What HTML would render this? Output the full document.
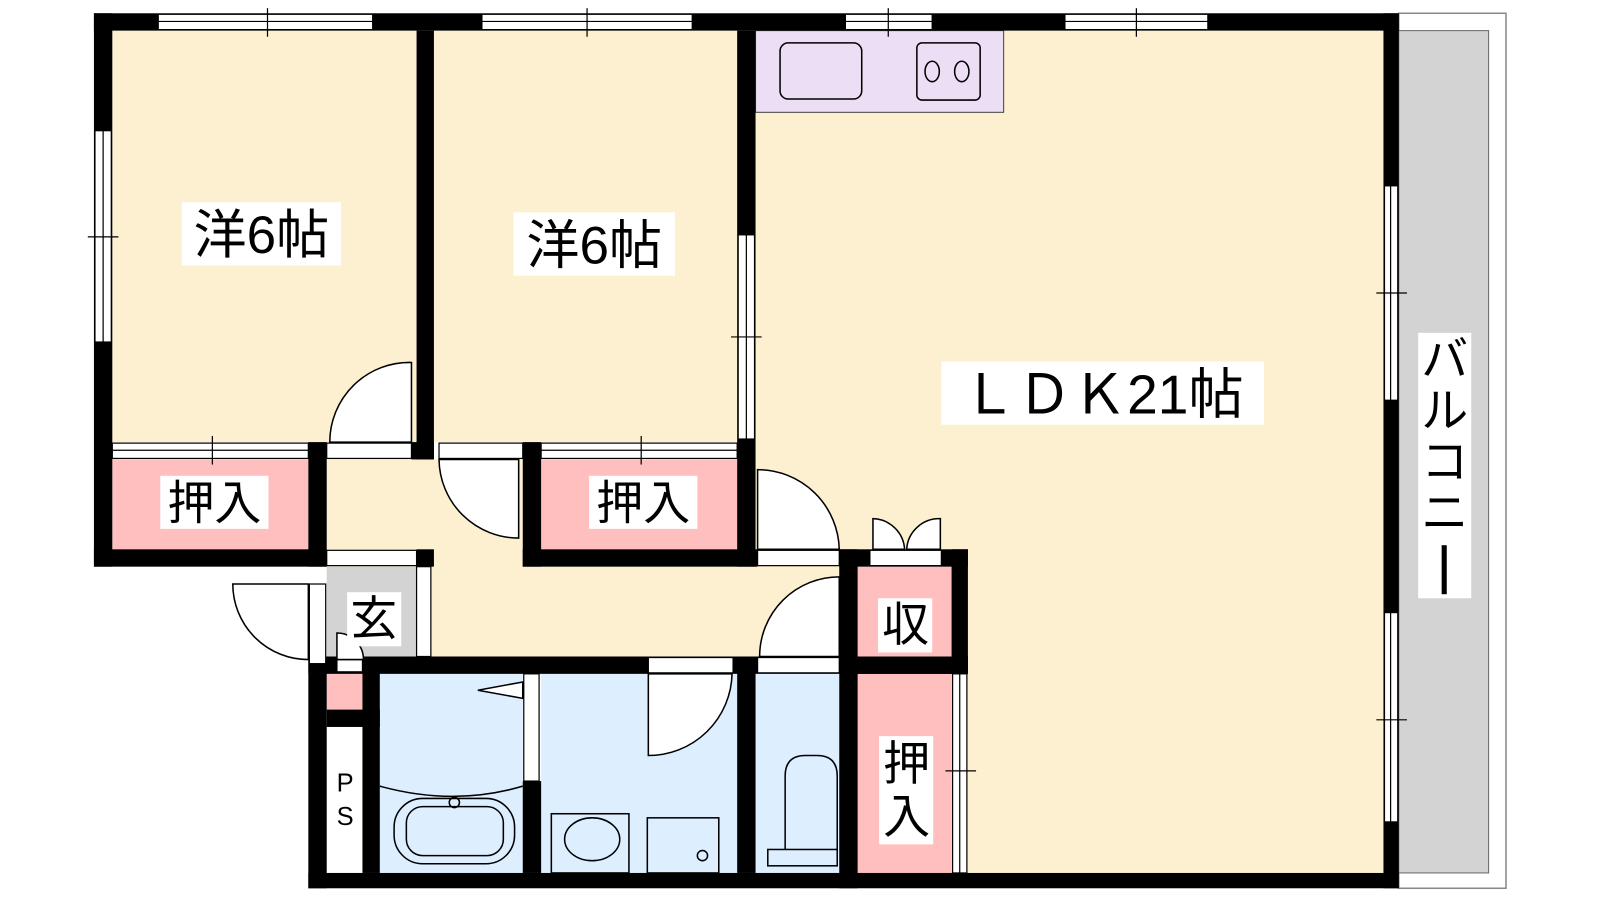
<!DOCTYPE html>
<html><head><meta charset="utf-8"><style>
html,body{margin:0;padding:0;background:#fff;width:1600px;height:900px;overflow:hidden}
svg{display:block}
text{font-family:"Liberation Sans","Noto Sans CJK JP",sans-serif;fill:#000}
</style></head><body>
<svg width="1600" height="900" viewBox="0 0 1600 900" xmlns="http://www.w3.org/2000/svg">
<g transform="scale(1.021)">
<rect x="1370" y="13" width="105" height="857" fill="#fff" stroke="#888" stroke-width="1.5"/>
<rect x="1370" y="30" width="88" height="825" fill="#d3d3d3" stroke="#666" stroke-width="1"/>
<rect x="110" y="30" width="298" height="403" fill="#fdf0d0"/>
<rect x="425" y="30" width="297" height="403" fill="#fdf0d0"/>
<rect x="740" y="30" width="615" height="825" fill="#fdf0d0"/>
<rect x="740" y="30" width="243" height="80" fill="#ecdff5" stroke="#444" stroke-width="1"/>
<rect x="764" y="42" width="80" height="55" rx="8" fill="none" stroke="#000" stroke-width="1.5"/>
<rect x="898" y="42" width="62" height="56" rx="5" fill="none" stroke="#000" stroke-width="1.5"/>
<ellipse cx="913" cy="70" rx="7" ry="10" fill="none" stroke="#000" stroke-width="1.5"/>
<ellipse cx="942" cy="70" rx="7" ry="10" fill="none" stroke="#000" stroke-width="1.5"/>
<rect x="320" y="450" width="192" height="105" fill="#fdf0d0"/>
<rect x="320" y="555" width="502" height="88" fill="#fdf0d0"/>
<rect x="512" y="555" width="230" height="88" fill="#fdf0d0"/>
<rect x="320" y="555" width="88" height="88" fill="#d3d3d3"/>
<rect x="110" y="450" width="192" height="88" fill="#ffbfbf"/>
<rect x="530" y="450" width="192" height="88" fill="#ffbfbf"/>
<rect x="840" y="555" width="92" height="88" fill="#ffbfbf"/>
<rect x="840" y="660" width="92" height="195" fill="#ffbfbf"/>
<rect x="320" y="660" width="35" height="35" fill="#ffbfbf"/>
<rect x="320" y="712" width="35" height="143" fill="#fff"/>
<rect x="372" y="660" width="140" height="195" fill="#ddeeff"/>
<rect x="530" y="660" width="192" height="195" fill="#ddeeff"/>
<rect x="740" y="660" width="82" height="195" fill="#ddeeff"/>
<g fill="#000">
<rect x="92" y="13" width="1278" height="17"/>
<rect x="92" y="13" width="18" height="542"/>
<rect x="408" y="30" width="17" height="420"/>
<rect x="722" y="30" width="18" height="525"/>
<rect x="1355" y="13" width="15" height="857"/>
<rect x="92" y="538" width="228" height="17"/>
<rect x="302" y="433" width="18" height="122"/>
<rect x="403" y="433" width="22" height="17"/>
<rect x="512" y="433" width="18" height="122"/>
<rect x="512" y="538" width="230" height="17"/>
<rect x="408" y="538" width="17" height="17"/>
<rect x="822" y="538" width="126" height="17"/>
<rect x="822" y="538" width="18" height="332"/>
<rect x="932" y="538" width="16" height="122"/>
<rect x="822" y="643" width="126" height="17"/>
<rect x="302" y="643" width="646" height="17"/>
<rect x="302" y="643" width="18" height="227"/>
<rect x="302" y="855" width="1068" height="15"/>
<rect x="320" y="695" width="52" height="17"/>
<rect x="355" y="643" width="17" height="212"/>
<rect x="512" y="765" width="18" height="90"/>
<rect x="722" y="643" width="18" height="212"/>
</g>
<g fill="#fff" stroke="#000" stroke-width="1.2">
<rect x="155" y="14" width="210" height="15"/><rect x="472" y="14" width="206" height="15"/>
<rect x="828" y="14" width="85" height="15"/><rect x="1043" y="14" width="140" height="15"/>
<rect x="93" y="128" width="16" height="207"/>
<rect x="723" y="230" width="16" height="200"/>
<rect x="1356" y="182" width="13" height="210"/><rect x="1356" y="600" width="13" height="205"/>
<rect x="933" y="660" width="14" height="195"/>
<rect x="110" y="434" width="192" height="15"/><rect x="530" y="434" width="192" height="15"/>
<rect x="320" y="434" width="83" height="15"/><rect x="430" y="434" width="82" height="15"/>
<rect x="742" y="539" width="80" height="15"/><rect x="852" y="539" width="70" height="15"/>
<rect x="320" y="539" width="88" height="15"/><rect x="408" y="555" width="14" height="88"/>
<rect x="303" y="572" width="16" height="78"/>
<rect x="635" y="644" width="83" height="15"/><rect x="742" y="644" width="80" height="15"/>
<rect x="330" y="646" width="25" height="12"/>
<rect x="513" y="660" width="15" height="105"/>
</g>
<g stroke="#000" stroke-width="1.2" fill="none">
<line x1="155" y1="21" x2="365" y2="21"/><line x1="472" y1="21" x2="678" y2="21"/>
<line x1="828" y1="21" x2="913" y2="21"/><line x1="1043" y1="21" x2="1183" y2="21"/>
<line x1="262" y1="8" x2="262" y2="36"/><line x1="575" y1="8" x2="575" y2="36"/>
<line x1="870" y1="8" x2="870" y2="36"/><line x1="1113" y1="8" x2="1113" y2="36"/>
<line x1="101" y1="128" x2="101" y2="335"/><line x1="86" y1="232" x2="116" y2="232"/>
<line x1="731" y1="230" x2="731" y2="430"/><line x1="716" y1="330" x2="746" y2="330"/>
<line x1="1362" y1="182" x2="1362" y2="392"/><line x1="1348" y1="287" x2="1378" y2="287"/>
<line x1="1362" y1="600" x2="1362" y2="805"/><line x1="1348" y1="705" x2="1378" y2="705"/>
<line x1="940" y1="660" x2="940" y2="855"/><line x1="926" y1="755" x2="956" y2="755"/>
<line x1="110" y1="441" x2="302" y2="441"/><line x1="530" y1="441" x2="722" y2="441"/>
<line x1="208" y1="427" x2="208" y2="455"/><line x1="628" y1="427" x2="628" y2="455"/>
</g>
<g fill="#fff" stroke="#000" stroke-width="1.5">
<path d="M403,433 L403,355 A78,78 0 0 0 323,433 Z"/>
<path d="M508,450 L508,527 A78,78 0 0 1 430,450 Z"/>
<path d="M742,538 L742,460 A80,80 0 0 1 822,538 Z"/>
<path d="M822,643 L822,565 A78,78 0 0 0 744,643 Z"/>
<path d="M635,660 L635,740 A82,82 0 0 0 717,660 Z"/>
<path d="M302,572 L228,572 A74,74 0 0 0 302,646 Z"/>
<path d="M330,646 L330,620 A26,26 0 0 1 356,646 Z"/>
<path d="M855,538 L855,508 A32,32 0 0 1 886,538 Z"/>
<path d="M921,538 L921,508 A32,32 0 0 0 888,538 Z"/>
</g>
<g stroke="#000" stroke-width="1.5" fill="none">
<path d="M372,770 Q445,790 512,770"/>
<rect x="386" y="782" width="118" height="64" rx="28"/>
<rect x="398" y="790" width="95" height="48" rx="16"/>
<circle cx="445" cy="786" r="5"/>
<path d="M512,668 L468,676 L512,684 Z" fill="#fff"/>
<rect x="540" y="797" width="76" height="58"/>
<ellipse cx="580" cy="822" rx="27" ry="21"/>
<rect x="634" y="801" width="70" height="54"/>
<circle cx="688" cy="838" r="5"/>
<path d="M769,832 L769,760 Q769,740 789,740 L800,740 Q820,740 820,760 L820,832"/>
<rect x="752" y="832" width="68" height="16"/>
</g>
<rect x="178" y="198" width="156" height="62" fill="#fff"/>
<text x="256" y="248" font-size="52" text-anchor="middle">洋6帖</text>
<rect x="503" y="208" width="158" height="62" fill="#fff"/>
<text x="582" y="258" font-size="52" text-anchor="middle">洋6帖</text>
<rect x="922" y="354" width="316" height="62" fill="#fff"/>
<text x="1080" y="405" font-size="54" text-anchor="middle">ＬＤＫ21帖</text>
<rect x="157" y="466" width="106" height="52" fill="#fff"/>
<text x="210" y="509" font-size="46" text-anchor="middle">押入</text>
<rect x="577" y="466" width="106" height="52" fill="#fff"/>
<text x="630" y="509" font-size="46" text-anchor="middle">押入</text>
<rect x="340" y="580" width="53" height="53" fill="#fff"/>
<text x="366" y="622" font-size="46" text-anchor="middle">玄</text>
<rect x="860" y="586" width="53" height="53" fill="#fff"/>
<text x="887" y="628" font-size="46" text-anchor="middle">収</text>
<rect x="861" y="721" width="53" height="106" fill="#fff"/>
<text x="888" y="764" font-size="46" text-anchor="middle">押</text>
<text x="888" y="816" font-size="46" text-anchor="middle">入</text>
<text x="338" y="775" font-size="25" text-anchor="middle">P</text>
<text x="338" y="808" font-size="25" text-anchor="middle">S</text>
<rect x="1389" y="326" width="52" height="260" fill="#fff"/>
<text x="1415" y="368" font-size="46" text-anchor="middle">バ</text>
<text x="1415" y="418" font-size="46" text-anchor="middle">ル</text>
<text x="1415" y="468" font-size="46" text-anchor="middle">コ</text>
<text x="1415" y="518" font-size="46" text-anchor="middle">ニ</text>
<rect x="1412" y="534" width="5" height="48" fill="#000"/>
</g>
</svg>
</body></html>
